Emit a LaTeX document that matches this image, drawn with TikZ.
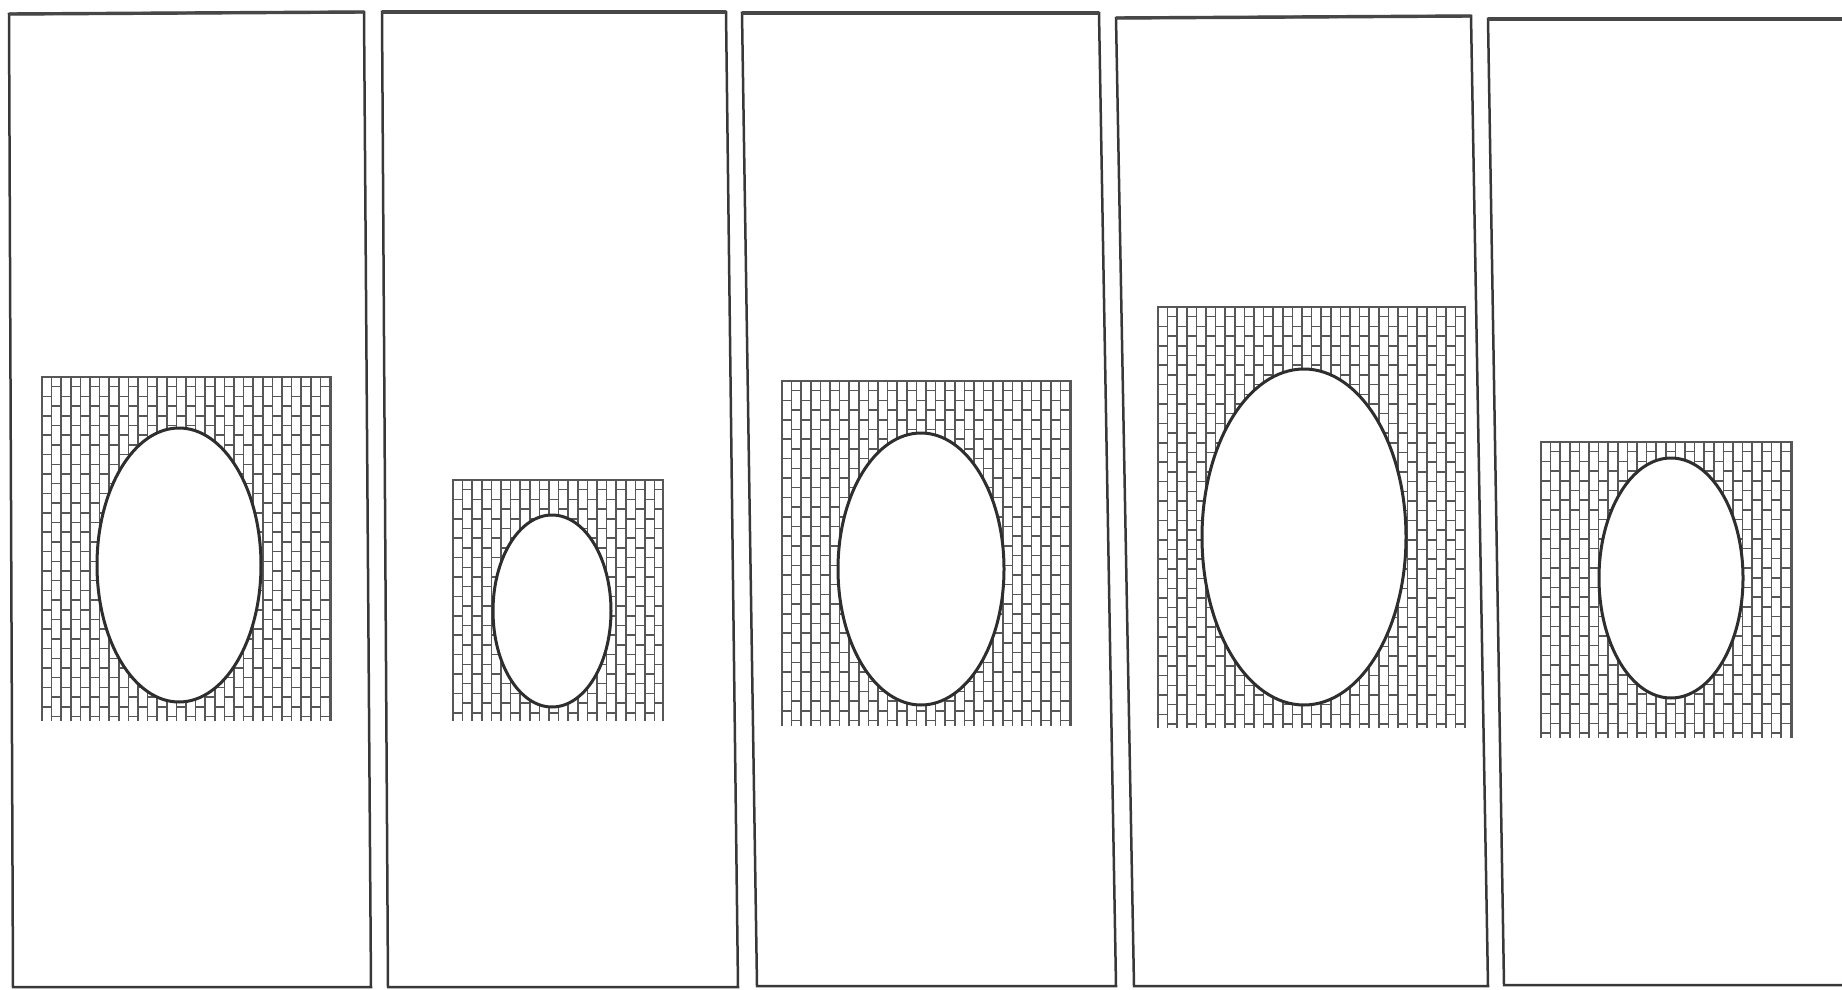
\documentclass[tikz,border=0pt]{standalone}
\usetikzlibrary{calc}
\newcommand{\bw}{9.6}
\newcommand{\bh}{19.4}
\tikzset{
  panel/.style={draw=black!78, line width=2.5pt, line join=miter},
  paneltop/.style={draw=black!72, line width=3.4pt},
  brick/.style={draw=black!66, line width=1.45pt},
  egg/.style={draw=black!82, line width=3pt, fill=white},
}
% vertical running bond: continuous columns, joints offset by half a brick
\newcommand{\brickwall}[4]{%
  \pgfmathtruncatemacro{\nrows}{ceil((#4-#2)/\bh)+1}%
  \pgfmathtruncatemacro{\ncols}{floor((#3-#1)/\bw)}%
  \begin{scope}
    \clip (#1-0.7,#2-0.7) rectangle (#3+0.7,#4+0.7);
    \foreach \c in {0,...,\ncols}{%
      \draw[brick] (#1+\c*\bw,#2) -- (#1+\c*\bw,#4);
      \pgfmathsetmacro{\off}{mod(\c,2)*\bh/2}%
      \foreach \r in {1,...,\nrows}{%
        \draw[brick] (#1+\c*\bw,#2+\r*\bh-\off) -- ++(\bw,0);
      }
    }
  \end{scope}
  \draw[brick] (#1,#4) -- (#1,#2) -- (#3,#2) -- (#3,#4);
}
\begin{document}
\begin{tikzpicture}[x=1pt,y=-1pt]
\useasboundingbox (0,0) rectangle (1842,990);
\fill[white] (0,0) rectangle (1842,990);

% panels
\coordinate (p1a) at (9,14);   \coordinate (p1b) at (364,12);  \coordinate (p1c) at (371,987);  \coordinate (p1d) at (13,987);
\coordinate (p2a) at (382,12); \coordinate (p2b) at (726,12);  \coordinate (p2c) at (738,987);  \coordinate (p2d) at (388,987);
\coordinate (p3a) at (742,13); \coordinate (p3b) at (1099,13); \coordinate (p3c) at (1116,986); \coordinate (p3d) at (757,986);
\coordinate (p4a) at (1116,18);\coordinate (p4b) at (1471,16); \coordinate (p4c) at (1488,986); \coordinate (p4d) at (1134,986);
\coordinate (p5a) at (1488,19);\coordinate (p5b) at (1860,19); \coordinate (p5c) at (1860,985); \coordinate (p5d) at (1504,985);

\draw[panel] (p1a) -- (p1b) -- (p1c) -- (p1d) -- cycle;
\draw[panel] (p2a) -- (p2b) -- (p2c) -- (p2d) -- cycle;
\draw[panel] (p3a) -- (p3b) -- (p3c) -- (p3d) -- cycle;
\draw[panel] (p4a) -- (p4b) -- (p4c) -- (p4d) -- cycle;
\draw[panel] (p5b) -- (p5a) -- (p5d) -- (p5c);
\draw[paneltop] (p1a) -- (p1b);
\draw[paneltop] (p2a) -- (p2b);
\draw[paneltop] (p3a) -- (p3b);
\draw[paneltop] (p4a) -- (p4b);
\draw[paneltop] (p5a) -- (p5b);

% brick walls with openings
\brickwall{42}{377}{331}{721}
\draw[egg] (179,565) ellipse [x radius=82pt, y radius=137pt];

\brickwall{453}{480}{663}{721}
\draw[egg] (552,611) ellipse [x radius=59pt, y radius=96pt];

\brickwall{782}{381}{1071}{726}
\draw[egg] (921,569) ellipse [x radius=83pt, y radius=136pt];

\brickwall{1158}{307}{1465}{728}
\draw[egg] (1304,537) ellipse [x radius=102pt, y radius=168pt];

\brickwall{1541}{442}{1792}{738}
\draw[egg] (1671,578) ellipse [x radius=72pt, y radius=120pt];
\end{tikzpicture}
\end{document}
